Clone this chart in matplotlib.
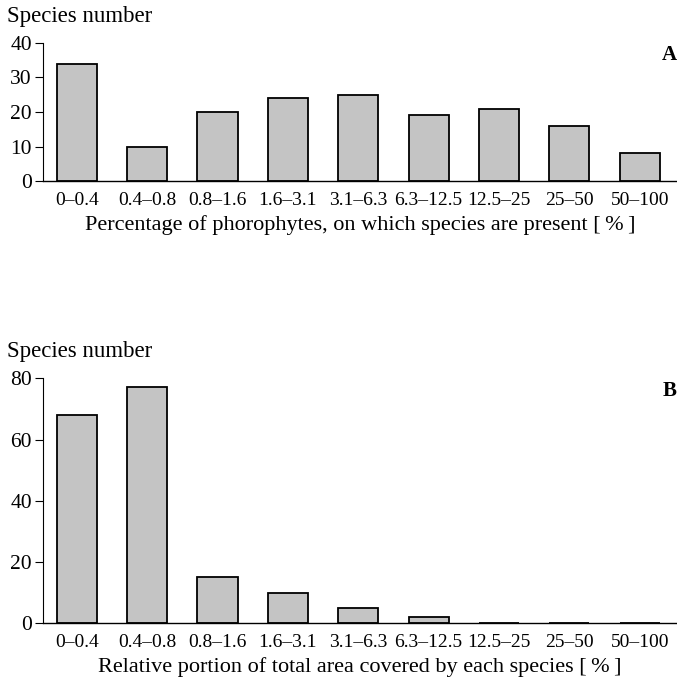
import matplotlib
matplotlib.use("Agg")
import matplotlib.pyplot as plt
import numpy as np

plt.rcParams['font.family'] = ['Liberation Serif', 'DejaVu Serif']

categories = ['0–0.4', '0.4–0.8', '0.8–1.6', '1.6–3.1', '3.1–6.3',
              '6.3–12.5', '12.5–25', '25–50', '50–100']

# species counts per class
phorophyte_counts = [34, 10, 20, 24, 25, 19, 21, 16, 8]
area_counts = [68, 77, 15, 10, 5, 2, 0, 0, 0]

panels = [
    {
        'values': phorophyte_counts,
        'ymax': 40,
        'yticks': [0, 10, 20, 30, 40],
        'xlabel': 'Percentage of phorophytes, on which species are present [\u2009%\u2009]',
        'letter': 'A',
        'letter_y': 0.91,
        'rect': [0.0635, 0.734, 0.9365, 0.203],
    },
    {
        'values': area_counts,
        'ymax': 80,
        'yticks': [0, 20, 40, 60, 80],
        'xlabel': 'Relative portion of total area covered by each species [\u2009%\u2009]',
        'letter': 'B',
        'letter_y': 0.95,
        'rect': [0.0635, 0.0847, 0.9365, 0.3598],
    },
]

fig = plt.figure(figsize=(6.77, 6.81), dpi=100)

for p in panels:
    ax = fig.add_axes(p['rect'])
    x = np.arange(len(categories))
    ax.bar(x, p['values'], width=0.57, color='#c4c4c4',
           edgecolor='black', linewidth=1.3)
    ax.set_xlim(-0.48, 8.53)
    ax.set_ylim(0, p['ymax'])
    ax.set_yticks(p['yticks'])
    ax.set_xticks(x)
    ax.set_xticklabels(categories)
    ax.tick_params(axis='x', length=0, pad=8, labelsize=14)
    ax.tick_params(axis='y', length=6, width=0.8, direction='out',
                   pad=2, labelsize=15.5)
    for side in ('top', 'right'):
        ax.spines[side].set_visible(False)
    ax.spines['left'].set_linewidth(0.8)
    ax.spines['bottom'].set_linewidth(1.0)
    ax.set_xlabel(p['xlabel'], fontsize=16, labelpad=4)
    # y-axis caption sits a fixed distance above the top of the axis
    ax.annotate('Species number', xy=(0, 1), xycoords='axes fraction',
                xytext=(-26, 19), textcoords='offset points',
                fontsize=16.5, ha='left', va='center')
    ax.text(1.0, p['letter_y'], p['letter'], transform=ax.transAxes,
            fontsize=15, fontweight='bold', ha='right', va='center')

fig.savefig('out.png', dpi=100)
